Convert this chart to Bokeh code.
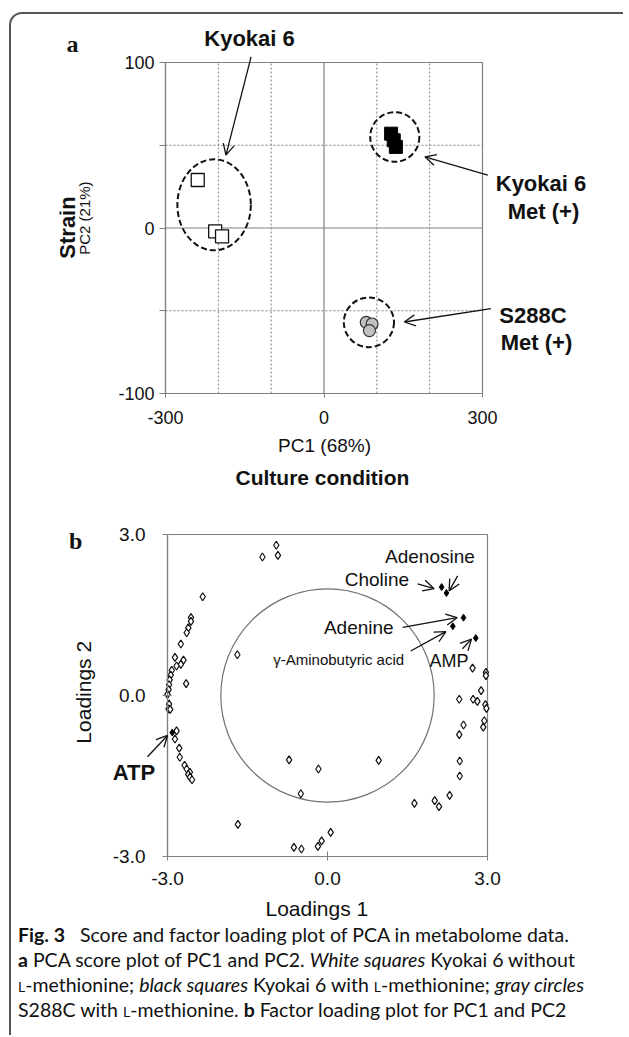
import numpy as np
from bokeh.plotting import figure
from bokeh.models import (FixedTicker, Label, Arrow, OpenHead, Range1d, Div,
                          CustomJSTickFormatter)
from bokeh.layouts import column
from bokeh.embed import file_html
from bokeh.resources import INLINE

FONT = "Liberation Sans"
INK = "#111111"
GRAY = "#808080"

# ---------------- data: panel a (PCA scores) ----------------
white_x = [-239, -206, -193]
white_y = [29, -2, -5]
black_x = [127, 132, 136]
black_y = [57, 53, 49]
gray_x = [80, 91, 86]
gray_y = [-57, -58, -62]

ell_x = [-208, 134, 85]
ell_y = [14, 55, -57]
ell_w = [139, 93, 95]
ell_h = [55, 30, 30]

a_xticks = [-300, 0, 300]
a_yticks = [-100, 0, 100]
a_xgrid_dot = [-200, -100, 100, 200]
a_ygrid_dot = [-50, 50]

# ---------------- data: panel b (loadings) ----------------
open_x = [-0.96, -1.22, -0.93, -2.34,
          -2.56, -2.56, -2.61, -2.64,
          -2.75, -2.86, -2.70, -2.75, -2.83, -2.65,
          -2.92, -2.94, -2.96, -2.97, -2.98, -3.00, -2.97, -2.98, -2.95,
          -1.69,
          -2.83, -2.86, -2.78, -2.77, -2.68, -2.64, -2.58, -2.61, -2.58, -2.54,
          -0.72, -0.17, 0.96, -0.50,
          -1.68, 0.06, -0.11, -0.18, -0.63, -0.49,
          2.72, 2.97, 2.97, 2.88, 2.47, 2.73, 2.81, 2.96, 2.98, 2.94, 2.92,
          2.55, 2.47, 2.48, 2.48, 2.29, 2.01, 2.09, 1.63]
open_y = [2.80, 2.58, 2.61, 1.84,
          1.45, 1.38, 1.26, 1.17,
          0.96, 0.71, 0.66, 0.58, 0.55, 0.22,
          0.47, 0.38, 0.29, 0.20, 0.11, 0.02, -0.16, -0.25, -0.26,
          0.76,
          -0.66, -0.81, -0.98, -1.15, -1.30, -1.37, -1.43, -1.47, -1.52, -1.57,
          -1.20, -1.37, -1.21, -1.83,
          -2.40, -2.55, -2.71, -2.81, -2.83, -2.86,
          0.51, 0.43, 0.37, 0.09, -0.07, -0.07, -0.11, -0.17, -0.24, -0.47, -0.59,
          -0.55, -0.73, -1.22, -1.50, -1.86, -1.96, -2.07, -2.01]

named = ["Choline", "Adenosine", "Adenine", "γ-Aminobutyric acid", "AMP", "ATP"]
named_x = [2.14, 2.23, 2.55, 2.35, 2.78, -2.91]
named_y = [2.02, 1.91, 1.45, 1.29, 1.07, -0.69]

circle_r = [2.0]
b_ticks = [-3.0, 0.0, 3.0]


def style_axis(ax, size):
    ax.axis_line_color = GRAY
    ax.axis_line_width = 1.2
    ax.major_tick_line_color = GRAY
    ax.minor_tick_line_color = GRAY
    ax.major_label_text_font = FONT
    ax.major_label_text_font_size = size
    ax.major_label_text_color = INK


def lab(p, x, y, text, size, bold=False, angle=0.0, align="center", font=FONT):
    p.add_layout(Label(x=x, y=y, text=text, text_font=font, text_font_size=size,
                       text_font_style="bold" if bold else "normal",
                       text_align=align, text_baseline="middle", angle=angle,
                       text_color=INK))


def arrow(p, x0, y0, x1, y1):
    p.add_layout(Arrow(end=OpenHead(size=11, line_width=1.3, line_color=INK),
                       x_start=x0, y_start=y0, x_end=x1, y_end=y1,
                       line_width=1.3, line_color=INK))


def frame_box(p, xs, ys):
    p.quad(left=[xs[0]], right=[xs[-1]], bottom=[ys[0]], top=[ys[-1]],
           fill_color=None, line_color=GRAY, line_width=1.2)


TOTAL_W = 612

# ---------------- panel a ----------------
A_LEFT, A_FH = 48, 476
A_FW = TOTAL_W - A_LEFT
ax_ppu = 317 / 600.0
ay_ppu = 331 / 200.0
a_x0 = -300 - (154 - A_LEFT) / ax_ppu
a_y0 = -100 - 97 / ay_ppu
pa = figure(x_range=Range1d(a_x0, a_x0 + A_FW / ax_ppu),
            y_range=Range1d(a_y0, a_y0 + A_FH / ay_ppu),
            frame_width=A_FW, frame_height=A_FH,
            min_border_left=A_LEFT, min_border_right=0,
            min_border_top=0, min_border_bottom=40,
            output_backend="svg", toolbar_location=None, align="start")
pa.frame_align = False
pa.outline_line_color = None
pa.border_fill_alpha = 0
pa.background_fill_alpha = 0
pa.xgrid.visible = False
pa.ygrid.visible = False

style_axis(pa.xaxis, "18px")
style_axis(pa.yaxis, "18px")
pa.xaxis.fixed_location = a_yticks[0]
pa.xaxis.ticker = FixedTicker(ticks=a_xticks)
pa.xaxis.bounds = (a_xticks[0], a_xticks[-1])
pa.xaxis.formatter = CustomJSTickFormatter(code="return tick.toFixed(0)")
pa.xaxis.major_tick_in = 0
pa.xaxis.major_tick_out = 4
pa.xaxis.minor_tick_line_color = None
pa.xaxis.major_label_standoff = 13

pa.yaxis.fixed_location = a_xticks[0]
pa.yaxis.ticker = FixedTicker(ticks=a_yticks, minor_ticks=a_ygrid_dot)
pa.yaxis.bounds = (a_yticks[0], a_yticks[-1])
pa.yaxis.formatter = CustomJSTickFormatter(code="return tick.toFixed(0)")
pa.yaxis.major_tick_in = 0
pa.yaxis.major_tick_out = 6
pa.yaxis.minor_tick_in = 0
pa.yaxis.minor_tick_out = 6
pa.yaxis.major_label_standoff = 5

# grid lines inside the data box
ymin, ymax = a_yticks[0], a_yticks[-1]
xmin, xmax = a_xticks[0], a_xticks[-1]
pa.segment(x0=a_xgrid_dot, y0=[ymin] * 4, x1=a_xgrid_dot, y1=[ymax] * 4,
           line_color=GRAY, line_width=1, line_dash="2 2")
pa.segment(x0=[xmin] * 2, y0=a_ygrid_dot, x1=[xmax] * 2, y1=a_ygrid_dot,
           line_color=GRAY, line_width=1, line_dash="2 2")
pa.segment(x0=[0, xmin], y0=[ymin, 0], x1=[0, xmax], y1=[ymax, 0],
           line_color=GRAY, line_width=1.2)
frame_box(pa, a_xticks, a_yticks)

pa.ellipse(x=ell_x, y=ell_y, width=ell_w, height=ell_h, fill_color=None,
           line_color=INK, line_width=2, line_dash="6 3")
pa.scatter(white_x, white_y, marker="square", size=13, fill_color="white",
           line_color=INK, line_width=1.3)
pa.scatter(black_x, black_y, marker="square", size=13, fill_color="black",
           line_color="black", line_width=1)
pa.scatter(gray_x, gray_y, marker="circle", size=12, fill_color="#c0c0c0",
           line_color="#333333", line_width=1.2)

arrow(pa, -138, 103.4, -185.6, 44)
arrow(pa, 310, 31.9, 191, 43)
arrow(pa, 316, -48.7, 152, -56.8)

lab(pa, -476, 110.9, "a", "24px", bold=True, font="Liberation Serif")
lab(pa, -141, 114.6, "Kyokai 6", "22px", bold=True)
lab(pa, 410.7, 26.6, "Kyokai 6", "22px", bold=True)
lab(pa, 415.5, 10.0, "Met (+)", "22px", bold=True)
lab(pa, 395.6, -52.9, "S288C", "22px", bold=True)
lab(pa, 402.2, -69.2, "Met (+)", "22px", bold=True)
lab(pa, -486.4, 0.3, "Strain", "22px", bold=True, angle=np.pi / 2)
lab(pa, -453.3, 6.0, "PC2 (21%)", "15px", angle=np.pi / 2)
lab(pa, 1, -131.4, "PC1 (68%)", "19px")
lab(pa, -3, -150.8, "Culture condition", "21px", bold=True)

# ---------------- panel b ----------------
B_LEFT, B_FH = 58, 403
B_FW = TOTAL_W - B_LEFT
bx_ppu = 320 / 6.0
by_ppu = 322 / 6.0
b_x0 = -3 - (156 - B_LEFT) / bx_ppu
b_y0 = -3 - 67 / by_ppu
pb = figure(x_range=Range1d(b_x0, b_x0 + B_FW / bx_ppu),
            y_range=Range1d(b_y0, b_y0 + B_FH / by_ppu),
            frame_width=B_FW, frame_height=B_FH,
            min_border_left=B_LEFT, min_border_right=0,
            min_border_top=0, min_border_bottom=40,
            output_backend="svg", toolbar_location=None, align="start",
            styles={"margin-top": "-10px"})
pb.frame_align = False
pb.outline_line_color = None
pb.border_fill_alpha = 0
pb.background_fill_alpha = 0
pb.xgrid.visible = False
pb.ygrid.visible = False
style_axis(pb.xaxis, "19px")
style_axis(pb.yaxis, "19px")
fmt1 = "return tick.toFixed(1)"
pb.xaxis.fixed_location = b_ticks[0]
pb.xaxis.ticker = FixedTicker(ticks=b_ticks)
pb.xaxis.bounds = (b_ticks[0], b_ticks[-1])
pb.xaxis.formatter = CustomJSTickFormatter(code=fmt1)
pb.xaxis.major_tick_in = 5
pb.xaxis.major_tick_out = 4
pb.xaxis.minor_tick_line_color = None
pb.xaxis.major_label_standoff = 11

pb.yaxis.fixed_location = b_ticks[0]
pb.yaxis.ticker = FixedTicker(ticks=b_ticks)
pb.yaxis.bounds = (b_ticks[0], b_ticks[-1])
pb.yaxis.formatter = CustomJSTickFormatter(code=fmt1)
pb.yaxis.major_tick_in = 4
pb.yaxis.major_tick_out = 5
pb.yaxis.minor_tick_line_color = None
pb.yaxis.major_label_standoff = 17

frame_box(pb, b_ticks, b_ticks)
pb.circle(x=[0], y=[0], radius=circle_r, fill_color=None, line_color="#707070",
          line_width=1.2)
pb.scatter(open_x, open_y, marker="diamond", size=8, fill_color="white",
           line_color=INK, line_width=1.2)
pb.scatter(named_x, named_y, marker="diamond", size=7, fill_color="black",
           line_color="black", line_width=1)

arrow(pb, 1.69, 2.08, 2.0, 1.99)
arrow(pb, 2.44, 2.23, 2.28, 1.95)
arrow(pb, 1.41, 1.27, 2.43, 1.45)
arrow(pb, 1.56, 0.83, 2.22, 1.19)
arrow(pb, 2.53, 0.87, 2.70, 1.05)
arrow(pb, -3.375, -1.14, -3.0, -0.745)

lab(pb, -4.72, 2.87, "b", "24px", bold=True, font="Liberation Serif")
lab(pb, 1.92, 2.59, named[1], "19px")
lab(pb, 1.53, 2.16, named[0], "19px", align="right")
lab(pb, 1.24, 1.27, named[2], "19px", align="right")
lab(pb, 0.21, 0.67, named[3], "15px")
lab(pb, 2.28, 0.65, named[4], "18px")
lab(pb, -3.63, -1.43, named[5], "22px", bold=True)
lab(pb, -4.58, 0.06, "Loadings 2", "21px", angle=np.pi / 2)
lab(pb, -0.2, -3.97, "Loadings 1", "21px")

# ---------------- caption ----------------
sc = '<span style="font-variant: small-caps;">l</span>'
cap_html = (
    '<div style="font-family: Lato; font-size: 19.5px; line-height: 25px; color: #111111; '
    'white-space: nowrap; padding-left: 2px;">'
    '<b>Fig. 3</b>&nbsp;&nbsp; Score and factor loading plot of PCA in metabolome data.<br>'
    '<b>a</b> PCA score plot of PC1 and PC2. <i>White squares</i> Kyokai 6 without<br>'
    + sc + '-methionine; <i>black squares</i> Kyokai 6 with ' + sc + '-methionine; <i>gray circles</i><br>'
    'S288C with ' + sc + '-methionine. <b>b</b> Factor loading plot for PC1 and PC2'
    '</div>'
)
cap = Div(text=cap_html, width=600, height=108, align="start",
          styles={"margin-top": "-41px"})

lay = column(pa, pb, cap, spacing=0, align="start",
             styles={"margin-left": "9px", "margin-top": "12px",
                     "border-left": "2px solid #555555",
                     "border-top": "2px solid #555555",
                     "border-top-left-radius": "13px",
                     "background": "white"})

open("out.html", "w").write(file_html(lay, INLINE))
